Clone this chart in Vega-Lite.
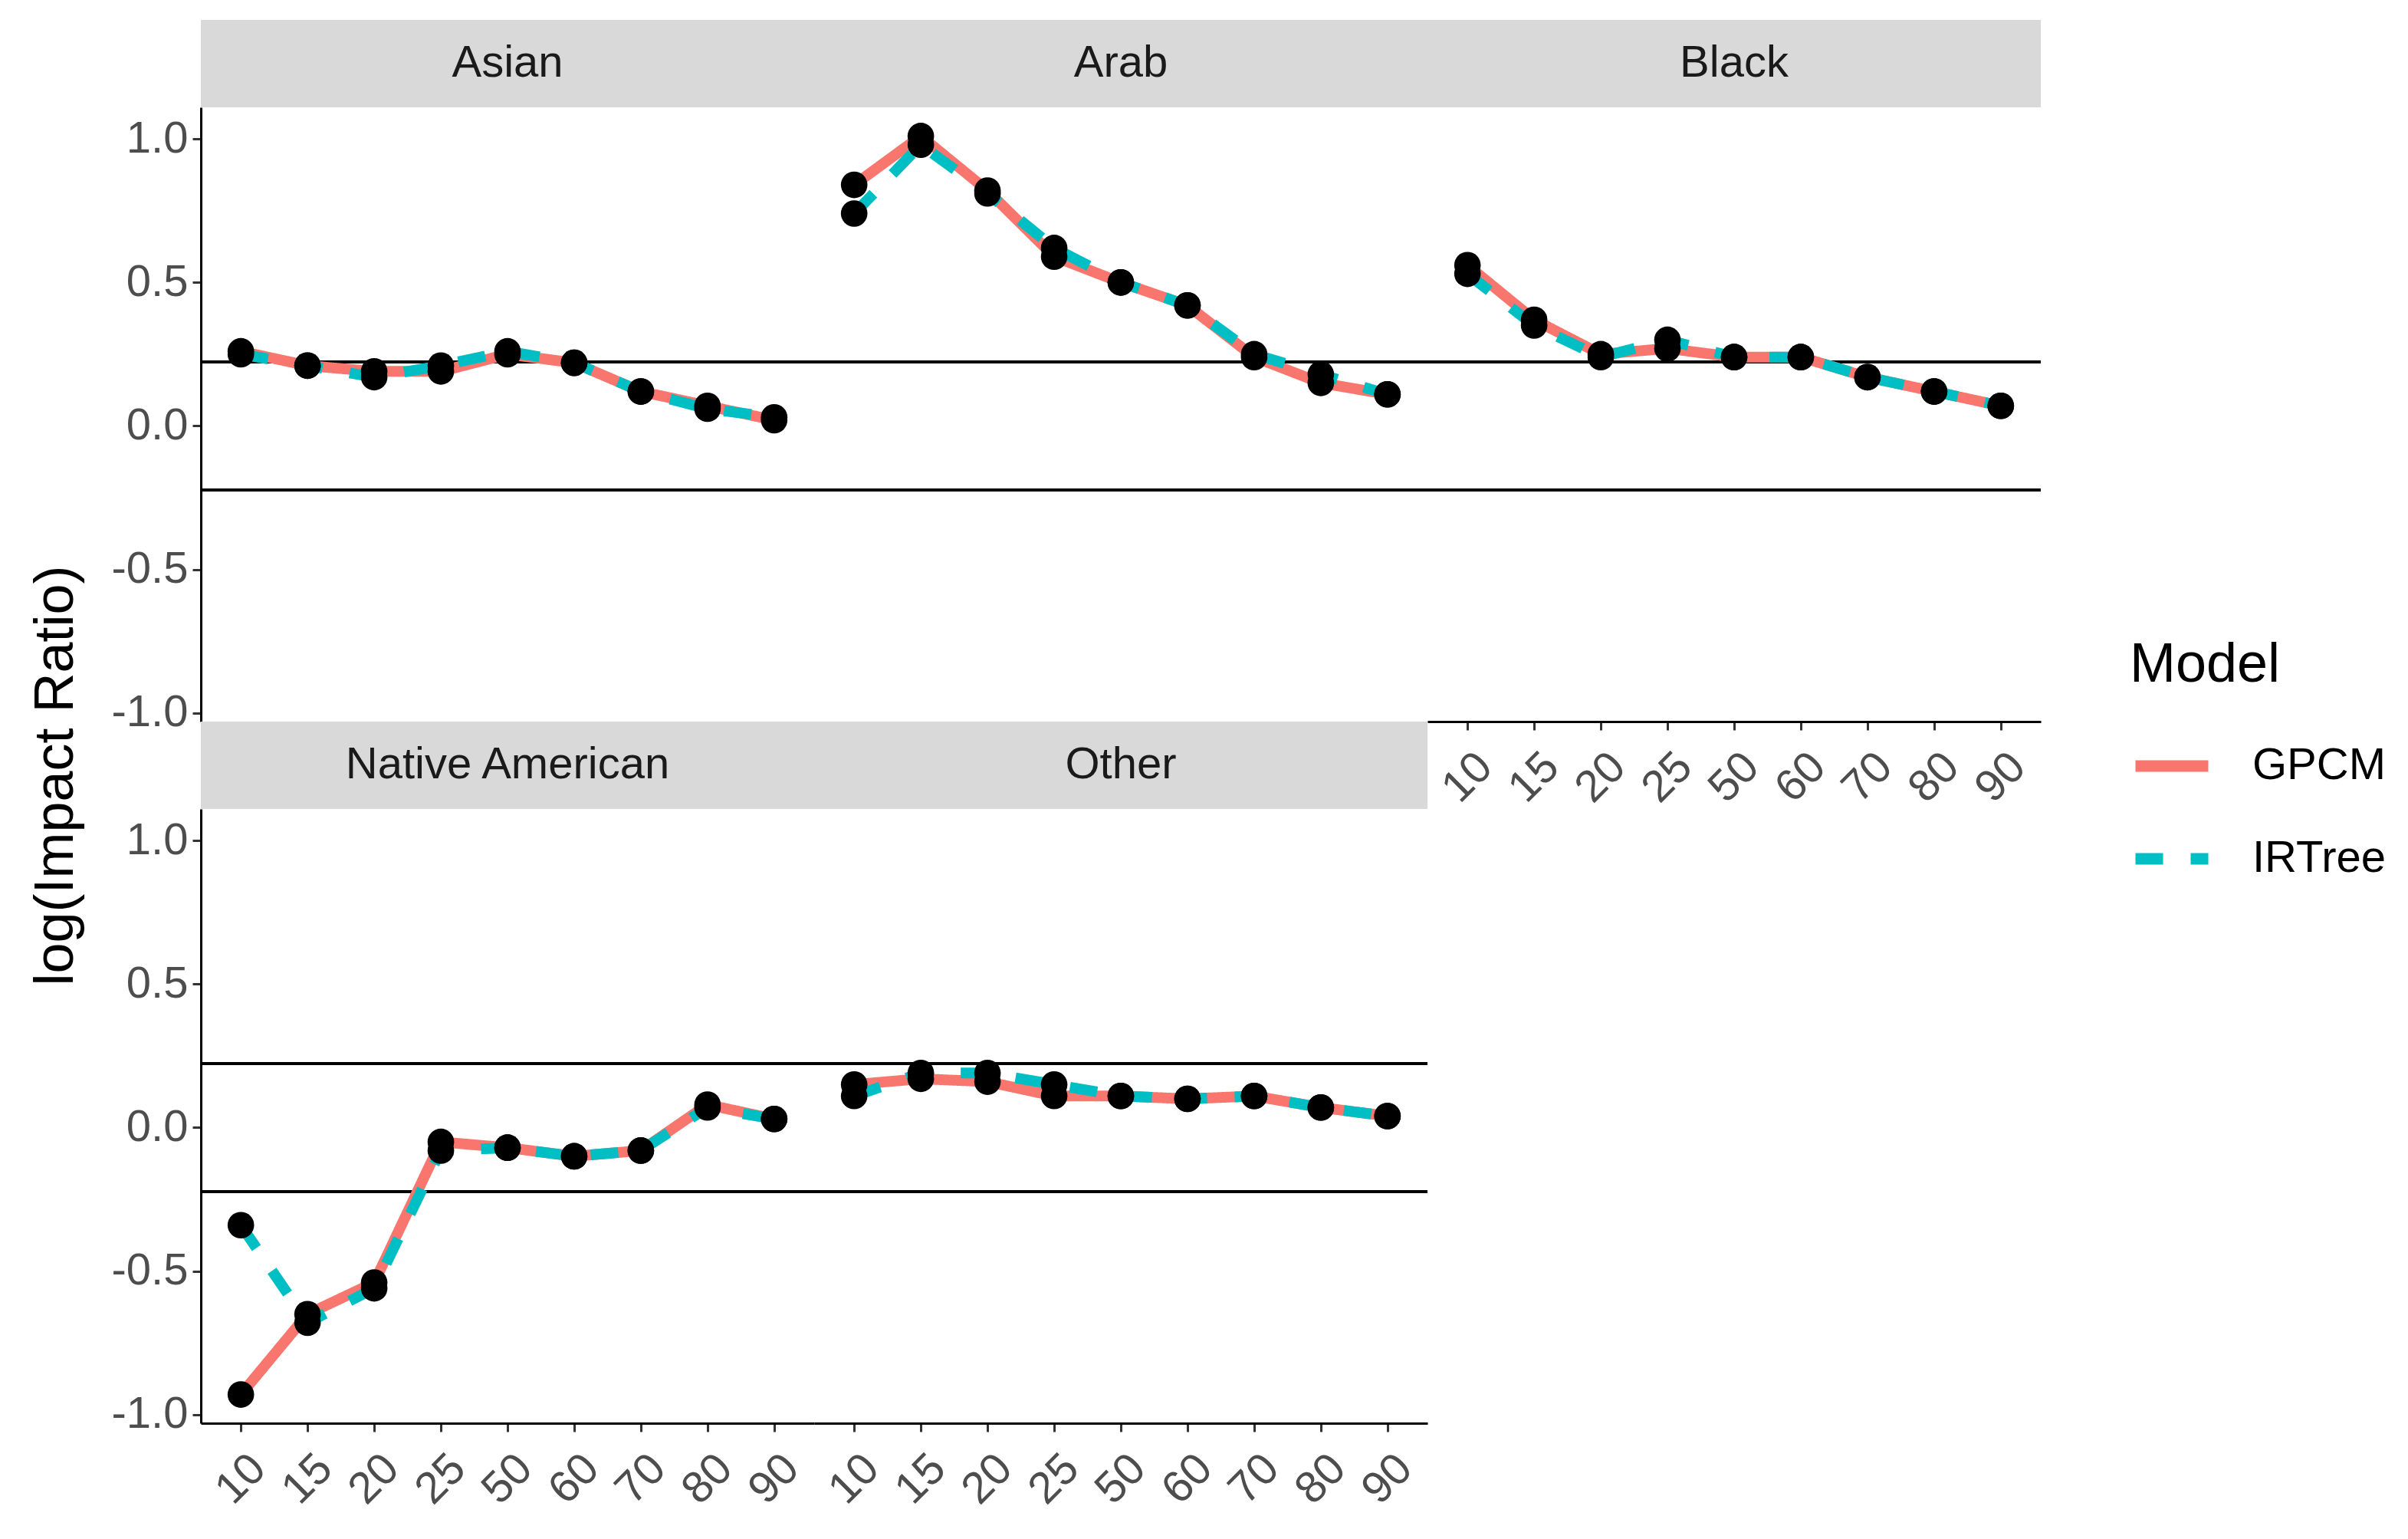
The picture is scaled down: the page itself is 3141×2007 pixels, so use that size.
{
  "$schema": "https://vega.github.io/schema/vega-lite/v6.json",
  "background": "white",
  "padding": {"left": 36, "top": 26, "right": 20, "bottom": 10},
  "config": {
    "font": "Liberation Sans",
    "view": {"stroke": null},
    "axis": {"grid": false, "labelFont": "Liberation Sans", "titleFont": "Liberation Sans"}
  },
  "datasets": {
    "d": [
      {"Group": "Asian", "Cut": "10", "Model": "GPCM", "Value": 0.26},
      {"Group": "Asian", "Cut": "15", "Model": "GPCM", "Value": 0.21},
      {"Group": "Asian", "Cut": "20", "Model": "GPCM", "Value": 0.19},
      {"Group": "Asian", "Cut": "25", "Model": "GPCM", "Value": 0.19},
      {"Group": "Asian", "Cut": "50", "Model": "GPCM", "Value": 0.25},
      {"Group": "Asian", "Cut": "60", "Model": "GPCM", "Value": 0.22},
      {"Group": "Asian", "Cut": "70", "Model": "GPCM", "Value": 0.12},
      {"Group": "Asian", "Cut": "80", "Model": "GPCM", "Value": 0.07},
      {"Group": "Asian", "Cut": "90", "Model": "GPCM", "Value": 0.02},
      {"Group": "Asian", "Cut": "10", "Model": "IRTree", "Value": 0.25},
      {"Group": "Asian", "Cut": "15", "Model": "IRTree", "Value": 0.21},
      {"Group": "Asian", "Cut": "20", "Model": "IRTree", "Value": 0.17},
      {"Group": "Asian", "Cut": "25", "Model": "IRTree", "Value": 0.21},
      {"Group": "Asian", "Cut": "50", "Model": "IRTree", "Value": 0.26},
      {"Group": "Asian", "Cut": "60", "Model": "IRTree", "Value": 0.22},
      {"Group": "Asian", "Cut": "70", "Model": "IRTree", "Value": 0.12},
      {"Group": "Asian", "Cut": "80", "Model": "IRTree", "Value": 0.06},
      {"Group": "Asian", "Cut": "90", "Model": "IRTree", "Value": 0.03},
      {"Group": "Arab", "Cut": "10", "Model": "GPCM", "Value": 0.84},
      {"Group": "Arab", "Cut": "15", "Model": "GPCM", "Value": 1.01},
      {"Group": "Arab", "Cut": "20", "Model": "GPCM", "Value": 0.82},
      {"Group": "Arab", "Cut": "25", "Model": "GPCM", "Value": 0.59},
      {"Group": "Arab", "Cut": "50", "Model": "GPCM", "Value": 0.50},
      {"Group": "Arab", "Cut": "60", "Model": "GPCM", "Value": 0.42},
      {"Group": "Arab", "Cut": "70", "Model": "GPCM", "Value": 0.24},
      {"Group": "Arab", "Cut": "80", "Model": "GPCM", "Value": 0.15},
      {"Group": "Arab", "Cut": "90", "Model": "GPCM", "Value": 0.11},
      {"Group": "Arab", "Cut": "10", "Model": "IRTree", "Value": 0.74},
      {"Group": "Arab", "Cut": "15", "Model": "IRTree", "Value": 0.98},
      {"Group": "Arab", "Cut": "20", "Model": "IRTree", "Value": 0.81},
      {"Group": "Arab", "Cut": "25", "Model": "IRTree", "Value": 0.62},
      {"Group": "Arab", "Cut": "50", "Model": "IRTree", "Value": 0.50},
      {"Group": "Arab", "Cut": "60", "Model": "IRTree", "Value": 0.42},
      {"Group": "Arab", "Cut": "70", "Model": "IRTree", "Value": 0.25},
      {"Group": "Arab", "Cut": "80", "Model": "IRTree", "Value": 0.18},
      {"Group": "Arab", "Cut": "90", "Model": "IRTree", "Value": 0.11},
      {"Group": "Black", "Cut": "10", "Model": "GPCM", "Value": 0.56},
      {"Group": "Black", "Cut": "15", "Model": "GPCM", "Value": 0.37},
      {"Group": "Black", "Cut": "20", "Model": "GPCM", "Value": 0.25},
      {"Group": "Black", "Cut": "25", "Model": "GPCM", "Value": 0.27},
      {"Group": "Black", "Cut": "50", "Model": "GPCM", "Value": 0.24},
      {"Group": "Black", "Cut": "60", "Model": "GPCM", "Value": 0.24},
      {"Group": "Black", "Cut": "70", "Model": "GPCM", "Value": 0.17},
      {"Group": "Black", "Cut": "80", "Model": "GPCM", "Value": 0.12},
      {"Group": "Black", "Cut": "90", "Model": "GPCM", "Value": 0.07},
      {"Group": "Black", "Cut": "10", "Model": "IRTree", "Value": 0.53},
      {"Group": "Black", "Cut": "15", "Model": "IRTree", "Value": 0.35},
      {"Group": "Black", "Cut": "20", "Model": "IRTree", "Value": 0.24},
      {"Group": "Black", "Cut": "25", "Model": "IRTree", "Value": 0.30},
      {"Group": "Black", "Cut": "50", "Model": "IRTree", "Value": 0.24},
      {"Group": "Black", "Cut": "60", "Model": "IRTree", "Value": 0.24},
      {"Group": "Black", "Cut": "70", "Model": "IRTree", "Value": 0.17},
      {"Group": "Black", "Cut": "80", "Model": "IRTree", "Value": 0.12},
      {"Group": "Black", "Cut": "90", "Model": "IRTree", "Value": 0.07},
      {"Group": "Native American", "Cut": "10", "Model": "GPCM", "Value": -0.93},
      {"Group": "Native American", "Cut": "15", "Model": "GPCM", "Value": -0.65},
      {"Group": "Native American", "Cut": "20", "Model": "GPCM", "Value": -0.54},
      {"Group": "Native American", "Cut": "25", "Model": "GPCM", "Value": -0.05},
      {"Group": "Native American", "Cut": "50", "Model": "GPCM", "Value": -0.07},
      {"Group": "Native American", "Cut": "60", "Model": "GPCM", "Value": -0.10},
      {"Group": "Native American", "Cut": "70", "Model": "GPCM", "Value": -0.08},
      {"Group": "Native American", "Cut": "80", "Model": "GPCM", "Value": 0.08},
      {"Group": "Native American", "Cut": "90", "Model": "GPCM", "Value": 0.03},
      {"Group": "Native American", "Cut": "10", "Model": "IRTree", "Value": -0.34},
      {"Group": "Native American", "Cut": "15", "Model": "IRTree", "Value": -0.68},
      {"Group": "Native American", "Cut": "20", "Model": "IRTree", "Value": -0.56},
      {"Group": "Native American", "Cut": "25", "Model": "IRTree", "Value": -0.08},
      {"Group": "Native American", "Cut": "50", "Model": "IRTree", "Value": -0.07},
      {"Group": "Native American", "Cut": "60", "Model": "IRTree", "Value": -0.10},
      {"Group": "Native American", "Cut": "70", "Model": "IRTree", "Value": -0.08},
      {"Group": "Native American", "Cut": "80", "Model": "IRTree", "Value": 0.07},
      {"Group": "Native American", "Cut": "90", "Model": "IRTree", "Value": 0.03},
      {"Group": "Other", "Cut": "10", "Model": "GPCM", "Value": 0.15},
      {"Group": "Other", "Cut": "15", "Model": "GPCM", "Value": 0.17},
      {"Group": "Other", "Cut": "20", "Model": "GPCM", "Value": 0.16},
      {"Group": "Other", "Cut": "25", "Model": "GPCM", "Value": 0.11},
      {"Group": "Other", "Cut": "50", "Model": "GPCM", "Value": 0.11},
      {"Group": "Other", "Cut": "60", "Model": "GPCM", "Value": 0.10},
      {"Group": "Other", "Cut": "70", "Model": "GPCM", "Value": 0.11},
      {"Group": "Other", "Cut": "80", "Model": "GPCM", "Value": 0.07},
      {"Group": "Other", "Cut": "90", "Model": "GPCM", "Value": 0.04},
      {"Group": "Other", "Cut": "10", "Model": "IRTree", "Value": 0.11},
      {"Group": "Other", "Cut": "15", "Model": "IRTree", "Value": 0.19},
      {"Group": "Other", "Cut": "20", "Model": "IRTree", "Value": 0.19},
      {"Group": "Other", "Cut": "25", "Model": "IRTree", "Value": 0.15},
      {"Group": "Other", "Cut": "50", "Model": "IRTree", "Value": 0.11},
      {"Group": "Other", "Cut": "60", "Model": "IRTree", "Value": 0.10},
      {"Group": "Other", "Cut": "70", "Model": "IRTree", "Value": 0.11},
      {"Group": "Other", "Cut": "80", "Model": "IRTree", "Value": 0.07},
      {"Group": "Other", "Cut": "90", "Model": "IRTree", "Value": 0.04}
    ],
    "refs": [{"v": 0.223}, {"v": -0.223}],
    "strips": [{"g": "Asian"}, {"g": "Arab"}, {"g": "Black"}, {"g": "Native American"}, {"g": "Other"}]
  },
  "resolve": {"scale": {"color": "shared", "strokeDash": "shared"}, "legend": {"color": "shared", "strokeDash": "shared"}},
  "bounds": "flush",
  "spacing": 0,
  "columns": 3,
  "concat": [
    {"width": 800, "height": 114, "view": {"fill": "#D9D9D9", "stroke": null}, "data": {"name": "strips"}, "transform": [{"filter": "datum.g === 'Asian'"}], "mark": {"type": "text", "fontSize": 58, "color": "#1A1A1A", "font": "Liberation Sans"}, "encoding": {"text": {"field": "g"}}},
    {"width": 800, "height": 114, "view": {"fill": "#D9D9D9", "stroke": null}, "data": {"name": "strips"}, "transform": [{"filter": "datum.g === 'Arab'"}], "mark": {"type": "text", "fontSize": 58, "color": "#1A1A1A", "font": "Liberation Sans"}, "encoding": {"text": {"field": "g"}}},
    {"width": 800, "height": 114, "view": {"fill": "#D9D9D9", "stroke": null}, "data": {"name": "strips"}, "transform": [{"filter": "datum.g === 'Black'"}], "mark": {"type": "text", "fontSize": 58, "color": "#1A1A1A", "font": "Liberation Sans"}, "encoding": {"text": {"field": "g"}}},
    {
      "width": 800, "height": 801,
      "layer": [
        {"data": {"name": "refs"}, "mark": {"type": "rule", "color": "black", "strokeWidth": 4}, "encoding": {"y": {"field": "v", "type": "quantitative", "scale": {"domain": [-1.03, 1.11], "nice": false, "zero": false}, "axis": {"values": [-1, -0.5, 0, 0.5, 1], "format": ".1f", "labelExpr": "replace(datum.label, '\u2212', '-')", "title": "log(Impact Ratio)", "titleFontSize": 72, "titleFontWeight": "normal", "titleColor": "black", "titleY": 871, "titlePadding": 36, "labelFontSize": 58, "labelColor": "#4D4D4D", "labelPadding": 6, "tickSize": 11, "tickWidth": 3, "tickColor": "#333333", "domainColor": "black", "domainWidth": 3}}}},
        {"data": {"name": "d"}, "transform": [{"filter": "datum.Group === 'Asian'"}], "mark": {"type": "line", "strokeWidth": 14}, "encoding": {
          "x": {"field": "Cut", "type": "ordinal", "scale": {"type": "point", "padding": 0.6, "domain": ["10","15","20","25","50","60","70","80","90"]}, "axis": null},
          "y": {"field": "Value", "type": "quantitative"},
          "color": {"field": "Model", "type": "nominal", "scale": {"domain": ["GPCM", "IRTree"], "range": ["#F8766D", "#00BFC4"]}, "legend": {"orient": "none", "legendX": 2516, "legendY": 806, "title": "Model", "titleFontSize": 72, "titleFontWeight": "normal", "titleColor": "black", "titlePadding": 40, "titleLimit": 600, "labelLimit": 600, "labelFontSize": 58, "labelColor": "black", "symbolType": "stroke", "symbolStrokeWidth": 15, "symbolSize": 9025, "labelOffset": 50, "rowPadding": 36}},
          "strokeDash": {"field": "Model", "type": "nominal", "scale": {"domain": ["GPCM", "IRTree"], "range": [[1, 0], [36, 36]]}, "legend": {"orient": "none", "legendX": 2516, "legendY": 806, "title": "Model", "titleFontSize": 72, "titleFontWeight": "normal", "titleColor": "black", "titlePadding": 40, "titleLimit": 600, "labelLimit": 600, "labelFontSize": 58, "labelColor": "black", "symbolType": "stroke", "symbolStrokeWidth": 15, "symbolSize": 9025, "labelOffset": 50, "rowPadding": 36}}
        }},
        {"data": {"name": "d"}, "transform": [{"filter": "datum.Group === 'Asian'"}], "mark": {"type": "circle", "color": "black", "opacity": 1, "size": 1200}, "encoding": {
          "x": {"field": "Cut", "type": "ordinal"},
          "y": {"field": "Value", "type": "quantitative"}
        }}
      ]
    },
    {
      "width": 800, "height": 801,
      "layer": [
        {"data": {"name": "refs"}, "mark": {"type": "rule", "color": "black", "strokeWidth": 4}, "encoding": {"y": {"field": "v", "type": "quantitative", "scale": {"domain": [-1.03, 1.11], "nice": false, "zero": false}, "axis": null}}},
        {"data": {"name": "d"}, "transform": [{"filter": "datum.Group === 'Arab'"}], "mark": {"type": "line", "strokeWidth": 14}, "encoding": {
          "x": {"field": "Cut", "type": "ordinal", "scale": {"type": "point", "padding": 0.6, "domain": ["10","15","20","25","50","60","70","80","90"]}, "axis": null},
          "y": {"field": "Value", "type": "quantitative"},
          "color": {"field": "Model", "type": "nominal", "scale": {"domain": ["GPCM", "IRTree"], "range": ["#F8766D", "#00BFC4"]}},
          "strokeDash": {"field": "Model", "type": "nominal", "scale": {"domain": ["GPCM", "IRTree"], "range": [[1, 0], [36, 36]]}}
        }},
        {"data": {"name": "d"}, "transform": [{"filter": "datum.Group === 'Arab'"}], "mark": {"type": "circle", "color": "black", "opacity": 1, "size": 1200}, "encoding": {
          "x": {"field": "Cut", "type": "ordinal"},
          "y": {"field": "Value", "type": "quantitative"}
        }}
      ]
    },
    {
      "width": 800, "height": 801,
      "layer": [
        {"data": {"name": "refs"}, "mark": {"type": "rule", "color": "black", "strokeWidth": 4}, "encoding": {"y": {"field": "v", "type": "quantitative", "scale": {"domain": [-1.03, 1.11], "nice": false, "zero": false}, "axis": null}}},
        {"data": {"name": "d"}, "transform": [{"filter": "datum.Group === 'Black'"}], "mark": {"type": "line", "strokeWidth": 14}, "encoding": {
          "x": {"field": "Cut", "type": "ordinal", "scale": {"type": "point", "padding": 0.6, "domain": ["10","15","20","25","50","60","70","80","90"]}, "axis": {"title": null, "labelAngle": -45, "labelAlign": "center", "labelBaseline": "middle", "labelPadding": 62, "labelFontSize": 58, "labelColor": "#4D4D4D", "tickSize": 11, "tickWidth": 3, "tickColor": "#333333", "domainColor": "black", "domainWidth": 3}},
          "y": {"field": "Value", "type": "quantitative"},
          "color": {"field": "Model", "type": "nominal", "scale": {"domain": ["GPCM", "IRTree"], "range": ["#F8766D", "#00BFC4"]}},
          "strokeDash": {"field": "Model", "type": "nominal", "scale": {"domain": ["GPCM", "IRTree"], "range": [[1, 0], [36, 36]]}}
        }},
        {"data": {"name": "d"}, "transform": [{"filter": "datum.Group === 'Black'"}], "mark": {"type": "circle", "color": "black", "opacity": 1, "size": 1200}, "encoding": {
          "x": {"field": "Cut", "type": "ordinal"},
          "y": {"field": "Value", "type": "quantitative"}
        }}
      ]
    },
    {"width": 800, "height": 114, "view": {"fill": "#D9D9D9", "stroke": null}, "data": {"name": "strips"}, "transform": [{"filter": "datum.g === 'Native American'"}], "mark": {"type": "text", "fontSize": 58, "color": "#1A1A1A", "font": "Liberation Sans"}, "encoding": {"text": {"field": "g"}}},
    {"width": 800, "height": 114, "view": {"fill": "#D9D9D9", "stroke": null}, "data": {"name": "strips"}, "transform": [{"filter": "datum.g === 'Other'"}], "mark": {"type": "text", "fontSize": 58, "color": "#1A1A1A", "font": "Liberation Sans"}, "encoding": {"text": {"field": "g"}}},
    {"width": 800, "height": 114, "view": {"fill": null, "stroke": null}, "data": {"name": "strips"}, "transform": [{"filter": "datum.g === 'none'"}], "mark": {"type": "text"}, "encoding": {"text": {"field": "g"}}},
    {
      "width": 800, "height": 801,
      "layer": [
        {"data": {"name": "refs"}, "mark": {"type": "rule", "color": "black", "strokeWidth": 4}, "encoding": {"y": {"field": "v", "type": "quantitative", "scale": {"domain": [-1.03, 1.11], "nice": false, "zero": false}, "axis": {"values": [-1, -0.5, 0, 0.5, 1], "format": ".1f", "labelExpr": "replace(datum.label, '\u2212', '-')", "title": null, "labelFontSize": 58, "labelColor": "#4D4D4D", "labelPadding": 6, "tickSize": 11, "tickWidth": 3, "tickColor": "#333333", "domainColor": "black", "domainWidth": 3}}}},
        {"data": {"name": "d"}, "transform": [{"filter": "datum.Group === 'Native American'"}], "mark": {"type": "line", "strokeWidth": 14}, "encoding": {
          "x": {"field": "Cut", "type": "ordinal", "scale": {"type": "point", "padding": 0.6, "domain": ["10","15","20","25","50","60","70","80","90"]}, "axis": {"title": null, "labelAngle": -45, "labelAlign": "center", "labelBaseline": "middle", "labelPadding": 62, "labelFontSize": 58, "labelColor": "#4D4D4D", "tickSize": 11, "tickWidth": 3, "tickColor": "#333333", "domainColor": "black", "domainWidth": 3}},
          "y": {"field": "Value", "type": "quantitative"},
          "color": {"field": "Model", "type": "nominal", "scale": {"domain": ["GPCM", "IRTree"], "range": ["#F8766D", "#00BFC4"]}},
          "strokeDash": {"field": "Model", "type": "nominal", "scale": {"domain": ["GPCM", "IRTree"], "range": [[1, 0], [36, 36]]}}
        }},
        {"data": {"name": "d"}, "transform": [{"filter": "datum.Group === 'Native American'"}], "mark": {"type": "circle", "color": "black", "opacity": 1, "size": 1200}, "encoding": {
          "x": {"field": "Cut", "type": "ordinal"},
          "y": {"field": "Value", "type": "quantitative"}
        }}
      ]
    },
    {
      "width": 800, "height": 801,
      "layer": [
        {"data": {"name": "refs"}, "mark": {"type": "rule", "color": "black", "strokeWidth": 4}, "encoding": {"y": {"field": "v", "type": "quantitative", "scale": {"domain": [-1.03, 1.11], "nice": false, "zero": false}, "axis": null}}},
        {"data": {"name": "d"}, "transform": [{"filter": "datum.Group === 'Other'"}], "mark": {"type": "line", "strokeWidth": 14}, "encoding": {
          "x": {"field": "Cut", "type": "ordinal", "scale": {"type": "point", "padding": 0.6, "domain": ["10","15","20","25","50","60","70","80","90"]}, "axis": {"title": null, "labelAngle": -45, "labelAlign": "center", "labelBaseline": "middle", "labelPadding": 62, "labelFontSize": 58, "labelColor": "#4D4D4D", "tickSize": 11, "tickWidth": 3, "tickColor": "#333333", "domainColor": "black", "domainWidth": 3}},
          "y": {"field": "Value", "type": "quantitative"},
          "color": {"field": "Model", "type": "nominal", "scale": {"domain": ["GPCM", "IRTree"], "range": ["#F8766D", "#00BFC4"]}},
          "strokeDash": {"field": "Model", "type": "nominal", "scale": {"domain": ["GPCM", "IRTree"], "range": [[1, 0], [36, 36]]}}
        }},
        {"data": {"name": "d"}, "transform": [{"filter": "datum.Group === 'Other'"}], "mark": {"type": "circle", "color": "black", "opacity": 1, "size": 1200}, "encoding": {
          "x": {"field": "Cut", "type": "ordinal"},
          "y": {"field": "Value", "type": "quantitative"}
        }}
      ]
    }
  ]
}
